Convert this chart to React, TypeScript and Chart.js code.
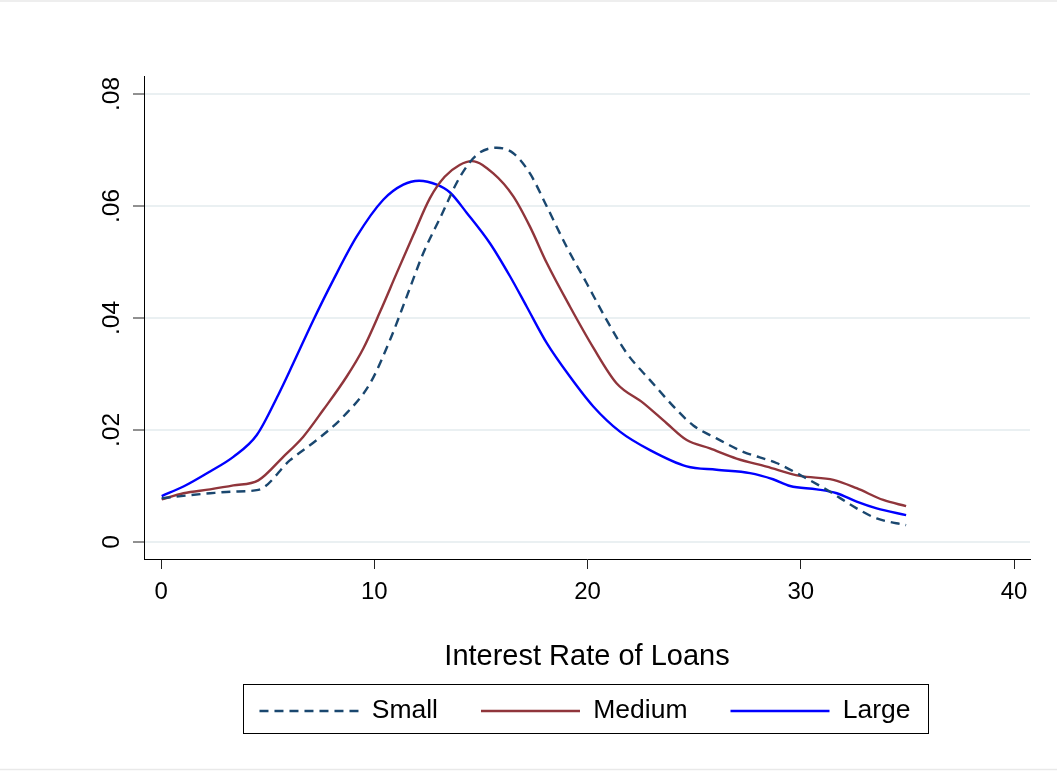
import React, { useEffect, useRef } from 'react';
import { Chart, registerables } from 'chart.js';

Chart.register(...registerables);

// ---- data ----
const seriesNames = ['Small', 'Medium', 'Large'];

const smallX = [0.03, 1.2, 2.3, 3.4, 4.56, 6.05, 7.3, 8.55, 9.8, 10.74, 11.52, 12.3, 13.08, 14.02, 14.8, 15.74, 16.52, 17.3, 18.09, 19.02, 19.96, 20.9, 21.84, 22.93, 24.18, 24.96, 26.05, 27.3, 28.86, 30.1, 31.36, 32.62, 33.56, 34.94];
const smallY = [0.0078, 0.0083, 0.0087, 0.009, 0.0093, 0.0146, 0.0182, 0.0224, 0.0283, 0.0361, 0.0438, 0.0516, 0.0578, 0.0652, 0.0691, 0.0704, 0.0694, 0.0658, 0.0599, 0.0527, 0.0462, 0.0396, 0.0337, 0.0289, 0.0236, 0.0208, 0.0185, 0.0161, 0.0141, 0.0117, 0.009, 0.006, 0.0042, 0.003];

const mediumX = [0.03, 1.05, 2.3, 3.39, 4.56, 5.73, 6.67, 7.61, 8.7, 9.49, 10.27, 11.05, 11.83, 12.61, 13.3, 14.0, 14.57, 15.58, 16.52, 17.3, 18.09, 19.18, 20.27, 21.37, 22.62, 23.71, 24.65, 25.74, 26.99, 28.4, 29.96, 31.53, 32.62, 33.87, 34.94];
const mediumY = [0.0076, 0.0087, 0.0094, 0.0101, 0.011, 0.0152, 0.0188, 0.0236, 0.0295, 0.0346, 0.0411, 0.048, 0.0548, 0.0614, 0.0652, 0.0673, 0.068, 0.0658, 0.0617, 0.0563, 0.0498, 0.042, 0.0347, 0.0283, 0.0248, 0.0212, 0.0182, 0.0167, 0.0149, 0.01345, 0.0118, 0.0111, 0.0096, 0.0075, 0.0064];

const largeX = [0.03, 1.05, 2.3, 3.39, 4.49, 5.5, 6.2, 7.14, 8.08, 9.17, 10.42, 11.36, 12.1, 12.93, 13.55, 14.33, 15.43, 16.37, 17.15, 18.09, 19.18, 20.27, 21.52, 22.93, 24.65, 26.05, 27.62, 28.7, 29.5, 30.75, 31.69, 32.62, 33.56, 34.94];
const largeY = [0.0082, 0.0099, 0.0126, 0.0152, 0.0191, 0.0263, 0.0319, 0.0396, 0.0468, 0.0545, 0.0611, 0.0638, 0.0645, 0.0638, 0.0624, 0.0588, 0.0533, 0.0474, 0.042, 0.0355, 0.0295, 0.0242, 0.0197, 0.0164, 0.0135, 0.0129, 0.0123, 0.0112, 0.01, 0.0094, 0.0087, 0.0072, 0.006, 0.0048];

const xTickValues = [0, 10, 20, 30, 40];
const xTickLabels = ['0', '10', '20', '30', '40'];
const yTickValues = [0, 0.02, 0.04, 0.06, 0.08];
const yTickLabels = ['0', '.02', '.04', '.06', '.08'];
const xTitle = 'Interest Rate of Loans';

// ---- layout / style ----
const W = 1057;
const H = 771;
const FONT = "'Liberation Sans', Arial, Helvetica, sans-serif";
const LEGEND_FONT = 26.5;
const LEGEND_PAD = 43;
const LEGEND_TEXT_Y = 711;

export default function App() {
  const ref = useRef<HTMLCanvasElement>(null);

  useEffect(() => {
    if (!ref.current) return;
    const toPts = (xs: number[], ys: number[]) => xs.map((x, i) => ({ x, y: ys[i] }));

    const framePlugin = {
      id: 'frame',
      beforeDraw(chart: any) {
        const ctx = chart.ctx;
        ctx.save();
        ctx.fillStyle = '#ffffff';
        ctx.fillRect(0, 0, W, H);
        ctx.strokeStyle = '#e9e9e9';
        ctx.lineWidth = 1.5;
        ctx.beginPath();
        ctx.moveTo(0, 1);
        ctx.lineTo(W, 1);
        ctx.moveTo(0, H - 1.5);
        ctx.lineTo(W, H - 1.5);
        ctx.stroke();
        ctx.restore();
      },
      afterLayout(chart: any) {
        const lg = chart.legend;
        if (lg) {
          lg.left = 100;
          lg.right = 1070;
          lg.top = LEGEND_TEXT_Y - LEGEND_PAD - LEGEND_FONT / 2;
          lg.bottom = 768;
        }
      },
      afterDraw(chart: any) {
        const lg = chart.legend;
        if (!lg || !lg.legendHitBoxes || !lg.legendHitBoxes.length) return;
        const hb = lg.legendHitBoxes;
        let l = Infinity, r = -Infinity, cy = 0;
        hb.forEach((b: any) => {
          l = Math.min(l, b.left);
          r = Math.max(r, b.left + b.width);
          cy = b.top + b.height / 2;
        });
        const ctx = chart.ctx;
        ctx.save();
        ctx.strokeStyle = '#000';
        ctx.lineWidth = 1;
        const x0 = Math.round(l - 16) + 0.5;
        const x1 = Math.round(r + 17) + 0.5;
        const y0 = Math.round(cy - 27.5) + 0.5;
        const y1 = Math.round(cy + 21.5) + 0.5;
        ctx.strokeRect(x0, y0, x1 - x0, y1 - y0);
        ctx.restore();
      },
    };

    const chart = new Chart(ref.current, {
      type: 'line',
      data: {
        datasets: [
          {
            label: seriesNames[0],
            data: toPts(smallX, smallY),
            borderColor: '#1a476f',
            backgroundColor: '#1a476f',
            borderWidth: 2.4,
            borderDash: [9, 6],
            pointRadius: 0,
            cubicInterpolationMode: 'monotone',
            fill: false,
          },
          {
            label: seriesNames[1],
            data: toPts(mediumX, mediumY),
            borderColor: '#90353b',
            backgroundColor: '#90353b',
            borderWidth: 2.4,
            pointRadius: 0,
            cubicInterpolationMode: 'monotone',
            fill: false,
          },
          {
            label: seriesNames[2],
            data: toPts(largeX, largeY),
            borderColor: '#0000ff',
            backgroundColor: '#0000ff',
            borderWidth: 2.4,
            pointRadius: 0,
            cubicInterpolationMode: 'monotone',
            fill: false,
          },
        ],
      },
      options: {
        responsive: false,
        animation: false,
        devicePixelRatio: 1,
        layout: { padding: { left: 0, right: 27, top: 76, bottom: 52 } },
        plugins: {
          title: { display: false },
          tooltip: { enabled: false },
          legend: {
            display: true,
            position: 'bottom',
            maxHeight: 40,
            labels: {
              usePointStyle: true,
              pointStyle: 'line',
              pointStyleWidth: 99,
              padding: LEGEND_PAD,
              color: '#000',
              font: { family: FONT, size: LEGEND_FONT },
              generateLabels: (c: any) =>
                c.data.datasets.map((ds: any, i: number) => ({
                  text: ds.label,
                  fillStyle: ds.borderColor,
                  strokeStyle: ds.borderColor,
                  lineWidth: ds.borderWidth,
                  lineDash: ds.borderDash || [],
                  lineCap: 'butt',
                  pointStyle: 'line',
                  fontColor: '#000',
                  hidden: false,
                  datasetIndex: i,
                })),
            },
          },
        },
        scales: {
          x: {
            type: 'linear',
            min: -0.8,
            max: 40.75,
            afterBuildTicks: (s: any) => {
              s.ticks = xTickValues.map((v) => ({ value: v }));
            },
            afterFit: (s: any) => {
              s.height = 120;
            },
            ticks: {
              color: '#000',
              padding: 9,
              font: { family: FONT, size: 24 },
              maxRotation: 0,
              minRotation: 0,
              callback: (v: any) => xTickLabels[xTickValues.indexOf(v)] ?? '',
            },
            grid: {
              drawOnChartArea: false,
              drawTicks: true,
              tickLength: 10,
              tickColor: '#222',
              tickWidth: 1,
            },
            border: { display: true, color: '#000', width: 1 },
            title: {
              display: true,
              text: xTitle,
              color: '#000',
              font: { family: FONT, size: 29 },
              padding: { top: 0, bottom: 4.6 },
            },
          },
          y: {
            type: 'linear',
            min: -0.00304,
            max: 0.0832,
            afterBuildTicks: (s: any) => {
              s.ticks = yTickValues.map((v) => ({ value: v }));
            },
            afterFit: (s: any) => {
              s.width = 144;
            },
            ticks: {
              color: '#000',
              padding: 3.3,
              minRotation: 90,
              maxRotation: 90,
              crossAlign: 'center',
              font: { family: FONT, size: 24.5 },
              callback: (v: any) => yTickLabels[yTickValues.indexOf(v)] ?? '',
            },
            grid: {
              color: '#eaf0f2',
              lineWidth: 2,
              drawTicks: true,
              tickLength: 11,
              tickColor: '#222',
              tickWidth: 1,
            },
            border: { display: true, color: '#000', width: 1 },
          },
        },
      },
      plugins: [framePlugin],
    } as any);

    return () => chart.destroy();
  }, []);

  return (
    <div style={{ position: 'absolute', left: 0, top: 0, width: W, height: H, background: '#fff' }}>
      <canvas ref={ref} width={W} height={H} style={{ display: 'block', width: W, height: H }} />
    </div>
  );
}
